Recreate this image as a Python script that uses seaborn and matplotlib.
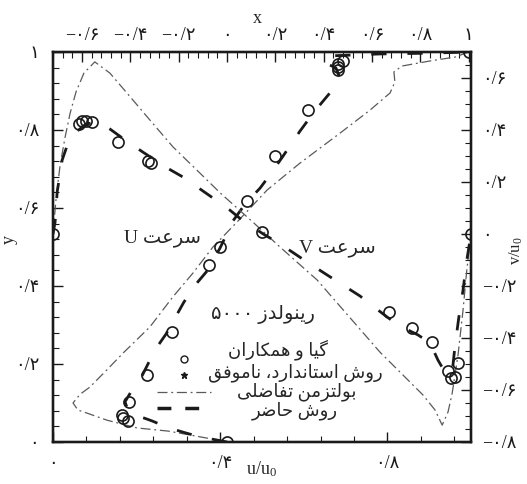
import numpy as np
import pandas as pd
import matplotlib
matplotlib.use("Agg")
import matplotlib.pyplot as plt
import seaborn as sns
from matplotlib.lines import Line2D
from matplotlib.ticker import MultipleLocator

# ---------------- data ----------------
# Ghia et al. (circles): u along vertical centre line, v along horizontal centre line
ghia_y = [1.0000, 0.9766, 0.9688, 0.9609, 0.9531, 0.8516, 0.7344, 0.6172, 0.5000,
          0.4531, 0.2813, 0.1719, 0.1016, 0.0703, 0.0625, 0.0547, 0.0000]
ghia_u = [1.0, 0.48223, 0.46120, 0.45992, 0.46036, 0.33556, 0.20087, 0.08183, -0.03039,
          -0.07404, -0.22855, -0.33050, -0.40435, -0.43643, -0.42901, -0.41165, 0.0]
ghia_x = [1.0000, 0.9688, 0.9609, 0.9531, 0.9453, 0.9063, 0.8594, 0.8047, 0.5000,
          0.2344, 0.2266, 0.1563, 0.0938, 0.0781, 0.0703, 0.0625, 0.0000]
ghia_v = [0.0, -0.49774, -0.55069, -0.55408, -0.52876, -0.41442, -0.36214, -0.30018, 0.00945,
          0.27280, 0.28066, 0.35368, 0.42951, 0.43648, 0.43329, 0.42447, 0.0]

# present method (thick dashed)
present_u = [0.0, -0.124, -0.186, -0.248, -0.310, -0.368, -0.410, -0.422, -0.393, -0.352,
             -0.298, -0.252, -0.215, -0.178, -0.128, -0.083, -0.029, 0.025, 0.075, 0.137,
             0.178, 0.232, 0.302, 0.364, 0.426, 0.468, 0.451, 0.401, 0.426, 0.633, 0.840, 1.0]
present_uy = [0.0, 0.015, 0.026, 0.038, 0.054, 0.067, 0.082, 0.103, 0.133, 0.169,
              0.236, 0.277, 0.318, 0.359, 0.405, 0.438, 0.497, 0.567, 0.610, 0.651,
              0.685, 0.733, 0.797, 0.849, 0.895, 0.933, 0.959, 0.974, 0.990, 0.995, 0.997, 1.0]
present_vx = [0.0, 0.005, 0.010, 0.022, 0.036, 0.055, 0.079, 0.108, 0.136, 0.172, 0.215,
              0.273, 0.311, 0.352, 0.383, 0.423, 0.455, 0.507, 0.536, 0.572, 0.608, 0.663,
              0.734, 0.799, 0.830, 0.873, 0.902, 0.921, 0.940, 0.955, 0.962, 0.971, 0.981,
              0.990, 1.0]
present_v = [0.0, 0.046, 0.162, 0.285, 0.350, 0.392, 0.423, 0.431, 0.404, 0.362, 0.315,
             0.254, 0.219, 0.173, 0.138, 0.092, 0.050, -0.004, -0.031, -0.069, -0.108, -0.165,
             -0.238, -0.319, -0.354, -0.388, -0.419, -0.485, -0.538, -0.531, -0.427, -0.319,
             -0.215, -0.100, 0.0]

# differential Boltzmann (dash-dot)
lbm_u = [0.0, -0.083, -0.153, -0.244, -0.372, -0.497, -0.579, -0.617, -0.637, -0.621,
         -0.600, -0.567, -0.497, -0.430, -0.319, -0.224, -0.141, -0.058, 0.054, 0.166,
         0.302, 0.468, 0.592, 0.675, 0.695, 0.691, 0.724, 0.840, 0.944, 1.0]
lbm_uy = [0.0, 0.010, 0.018, 0.028, 0.036, 0.056, 0.074, 0.082, 0.100, 0.113,
          0.126, 0.141, 0.185, 0.228, 0.295, 0.372, 0.433, 0.500, 0.572, 0.646,
          0.715, 0.792, 0.851, 0.895, 0.923, 0.949, 0.964, 0.977, 0.987, 1.0]
lbm_vx = [0.0, 0.007, 0.017, 0.029, 0.041, 0.055, 0.074, 0.100, 0.136, 0.177, 0.232,
          0.287, 0.344, 0.400, 0.478, 0.543, 0.632, 0.782, 0.885, 0.914, 0.931, 0.945,
          0.955, 0.969, 0.981, 0.990, 1.0]
lbm_v = [0.0, 0.130, 0.265, 0.373, 0.465, 0.546, 0.619, 0.662, 0.619, 0.542, 0.438,
         0.335, 0.246, 0.158, 0.046, -0.050, -0.177, -0.454, -0.619, -0.677, -0.735, -0.685,
         -0.612, -0.465, -0.292, -0.138, 0.0]

# ticks
bottom_ticks = [0.0, 0.4, 0.8]
top_ticks = [-0.6, -0.4, -0.2, 0.0, 0.2, 0.4, 0.6, 0.8, 1.0]
left_ticks = [0.0, 0.2, 0.4, 0.6, 0.8, 1.0]
right_ticks = [-0.8, -0.6, -0.4, -0.2, 0.0, 0.2, 0.4, 0.6]

# texts (logical order)
txt_re_word = "رینولدز"
txt_re_num = "۵۰۰۰"
txt_ghia = "گیا و همکاران"
txt_std = "روش استاندارد، ناموفق"
txt_lbm = "بولتزمن تفاضلی"
txt_present = "روش حاضر"
txt_speed = "سرعت"

# ---------------- Persian shaping helpers ----------------
FORMS = {  # isolated, final, initial, medial
    'ا': ('\uFE8D', '\uFE8E', None, None),
    'ب': ('\uFE8F', '\uFE90', '\uFE91', '\uFE92'),
    'ت': ('\uFE95', '\uFE96', '\uFE97', '\uFE98'),
    'ح': ('\uFEA1', '\uFEA2', '\uFEA3', '\uFEA4'),
    'د': ('\uFEA9', '\uFEAA', None, None),
    'ر': ('\uFEAD', '\uFEAE', None, None),
    'ز': ('\uFEAF', '\uFEB0', None, None),
    'س': ('\uFEB1', '\uFEB2', '\uFEB3', '\uFEB4'),
    'ش': ('\uFEB5', '\uFEB6', '\uFEB7', '\uFEB8'),
    'ض': ('\uFEBD', '\uFEBE', '\uFEBF', '\uFEC0'),
    'ع': ('\uFEC9', '\uFECA', '\uFECB', '\uFECC'),
    'ف': ('\uFED1', '\uFED2', '\uFED3', '\uFED4'),
    'ق': ('\uFED5', '\uFED6', '\uFED7', '\uFED8'),
    'ل': ('\uFEDD', '\uFEDE', '\uFEDF', '\uFEE0'),
    'م': ('\uFEE1', '\uFEE2', '\uFEE3', '\uFEE4'),
    'ن': ('\uFEE5', '\uFEE6', '\uFEE7', '\uFEE8'),
    'ه': ('\uFEE9', '\uFEEA', '\uFEEB', '\uFEEC'),
    'و': ('\uFEED', '\uFEEE', None, None),
    'ی': ('\uFBFC', '\uFBFD', '\uFBFE', '\uFBFF'),
    'ک': ('\uFB8E', '\uFB8F', '\uFB90', '\uFB91'),
    'گ': ('\uFB92', '\uFB93', '\uFB94', '\uFB95'),
}


def shape(s):
    out = []
    for i, c in enumerate(s):
        if c not in FORMS:
            out.append(c)
            continue
        f = FORMS[c]
        prev = s[i - 1] if i > 0 else ''
        nxt = s[i + 1] if i + 1 < len(s) else ''
        jp = prev in FORMS and FORMS[prev][2] is not None
        jn = f[2] is not None and nxt in FORMS
        out.append(f[3] if (jp and jn) else f[1] if jp else f[2] if jn else f[0])
    return ''.join(out)


def fa(s):
    return shape(s)[::-1]


PDIG = str.maketrans("0123456789", "۰۱۲۳۴۵۶۷۸۹")


def ptick(v):
    if abs(v) < 1e-9:
        return "۰"
    if abs(abs(v) - 1) < 1e-9:
        s = "1"
    else:
        s = ("%.1f" % abs(v)).replace(".", "/")
    s = s.translate(PDIG)
    return ("\u2212" if v < 0 else "") + s


# ---------------- style ----------------
sns.set_theme(style="white")
plt.rcParams["font.family"] = ["Liberation Serif", "DejaVu Sans"]
plt.rcParams["mathtext.fontset"] = "custom"
plt.rcParams["mathtext.rm"] = "Liberation Serif"
plt.rcParams["mathtext.it"] = "Liberation Serif"

fig = plt.figure(figsize=(5.27, 4.84), dpi=100)
fig.patch.set_facecolor("white")
ax = fig.add_axes([53 / 527, 42 / 484, 418 / 527, 390 / 484])
ax_top = ax.twiny()
ax_right = ax.twinx()

ax.set_xlim(0, 1.0)
ax.set_ylim(0, 1.0)
ax_top.set_xlim(-0.72, 1.01)
ax_right.set_ylim(-0.8, 0.7)

dash_present = (0, (5.5, 7.5))
dash_lbm = (0, (8, 3, 1.5, 3))
lbm_color = "#5a5a5a"

# U profiles (top axis u vs left axis y)
sns.lineplot(x=lbm_u, y=lbm_uy, ax=ax_top, sort=False, estimator=None, color=lbm_color,
             lw=0.9, linestyle=dash_lbm, legend=False)
sns.lineplot(x=present_u, y=present_uy, ax=ax_top, sort=False, estimator=None, color="k",
             lw=2.0, linestyle=dash_present, legend=False)
sns.lineplot(x=ghia_u, y=ghia_y, ax=ax_top, sort=False, estimator=None, color="k",
             linestyle="none", marker="o", markersize=8, markerfacecolor="none",
             markeredgecolor="k", markeredgewidth=1.2, legend=False)

# V profiles (bottom axis x vs right axis v)
sns.lineplot(x=lbm_vx, y=lbm_v, ax=ax_right, sort=False, estimator=None, color=lbm_color,
             lw=0.9, linestyle=dash_lbm, legend=False)
sns.lineplot(x=present_vx, y=present_v, ax=ax_right, sort=False, estimator=None, color="k",
             lw=2.0, linestyle=dash_present, legend=False)
sns.lineplot(x=ghia_x, y=ghia_v, ax=ax_right, sort=False, estimator=None, color="k",
             linestyle="none", marker="o", markersize=8, markerfacecolor="none",
             markeredgecolor="k", markeredgewidth=1.2, legend=False)

for a in (ax, ax_top, ax_right):
    for sp in a.spines.values():
        sp.set_linewidth(1.6)
        sp.set_color("k")
    a.set_xlabel("")
    a.set_ylabel("")

tick_kw = dict(direction="in", colors="k", labelsize=13)
# bottom x
ax.set_xticks(bottom_ticks, [ptick(t) for t in bottom_ticks])
ax.xaxis.set_minor_locator(MultipleLocator(0.08))
ax.tick_params(axis="x", which="both", bottom=True, top=False, pad=9, **tick_kw)
# left y
ax.set_yticks(left_ticks, [ptick(t) for t in left_ticks])
ax.yaxis.set_minor_locator(MultipleLocator(0.04))
ax.tick_params(axis="y", which="both", left=True, right=False, pad=10, **tick_kw)
# top x
ax_top.set_xticks(top_ticks, [ptick(t) for t in top_ticks])
ax_top.xaxis.set_minor_locator(MultipleLocator(0.04))
ax_top.tick_params(axis="x", which="both", top=True, bottom=False, pad=6, **tick_kw)
# right y
ax_right.set_yticks(right_ticks, [ptick(t) for t in right_ticks])
ax_right.yaxis.set_minor_locator(MultipleLocator(0.05))
ax_right.tick_params(axis="y", which="both", right=True, left=False, pad=8, **tick_kw)

for a in (ax, ax_top, ax_right):
    a.tick_params(which="major", length=7, width=1.0)
    a.tick_params(which="minor", length=4, width=0.8)

# axis labels
ax.set_xlabel(r"u/u$_0$", fontsize=13)
ax.xaxis.set_label_coords(0.5, -0.045)
ax.set_ylabel("y", fontsize=13)
ax.yaxis.set_label_coords(-0.085, 0.52)
ax_top.set_xlabel("x", fontsize=13)
ax_top.xaxis.set_label_coords(0.488, 1.075)
ax_right.set_ylabel(r"v/u$_0$", fontsize=12)
ax_right.yaxis.set_label_coords(1.088, 0.49)

# curve annotations
ax.text(0.261, 0.523, "U " + fa(txt_speed), fontsize=14, ha="center", va="center")
ax.text(0.68, 0.497, "V " + fa(txt_speed), fontsize=14, ha="center", va="center")

# legend symbols
handles = [
    Line2D([], [], linestyle="none", marker="o", markersize=5, markerfacecolor="none",
           markeredgecolor="k", markeredgewidth=1.0),
    Line2D([], [], linestyle="none", marker="*", markersize=5, color="k"),
    Line2D([], [], color=lbm_color, lw=0.9, linestyle=dash_lbm),
    Line2D([], [], color="k", lw=2.5, linestyle=(0, (4, 4))),
]
leg = ax.legend(handles, [" "] * 4, loc="center", bbox_to_anchor=(0.318, 0.147),
                frameon=False, fontsize=10, handlelength=3.9, handletextpad=0.0,
                borderpad=0.0, labelspacing=0.25)

# legend texts
ax.text(0.502, 0.326, txt_re_num + " " + fa(txt_re_word), fontsize=14, ha="center", va="center")
ax.text(0.538, 0.236, fa(txt_ghia), fontsize=13, ha="center", va="center")
ax.text(0.579, 0.179, fa(txt_std), fontsize=13, ha="center", va="center")
ax.text(0.584, 0.128, fa(txt_lbm), fontsize=13, ha="center", va="center")
ax.text(0.579, 0.079, fa(txt_present), fontsize=13, ha="center", va="center")

fig.savefig("out.png", dpi=100, facecolor="white")
